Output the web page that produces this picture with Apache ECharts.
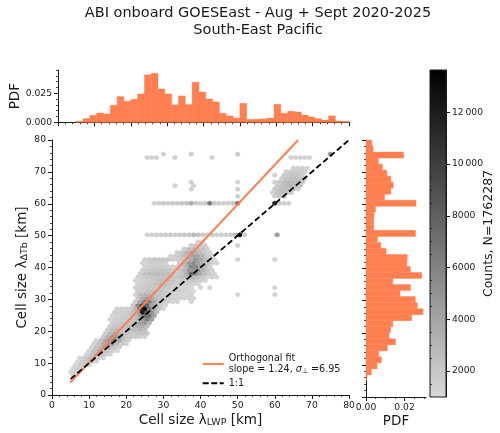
<!DOCTYPE html>
<html>
<head>
<meta charset="utf-8">
<style>html,body{margin:0;padding:0;background:#fff}#c{width:500px;height:433px}</style>
<script src="https://cdn.jsdelivr.net/npm/echarts@6/dist/echarts.min.js"></script>
</head>
<body>
<div id="c"></div>
<script>
// Hexagon lattice: x = lambda_LWP, y = lambda_dTb, 60 x 34 bins over 5-80 km
const binOrigin = 5;
const colStep = 0.625;
const rowStep = 1.103;

// Occupied hexagon runs: row index, first column index (columns advance by 2), counts
const hexRow = [1,2,3,4,5,6,7,8,9,10,11,12,13,14,15,16,17,18,19,20,21,22,22,23,24,24,24,24,25,26,26,26,26,27,28,29,30,31,32,33,33,34,34,34,35,36,37,38,38,39,41,41,50,50,52,52,53,54,54,54,55,55,55,56,56,56,56,57,58,58,59,60,63,63,63,63,64,64,64,64];
const hexFirstCol = [1,0,1,2,3,4,7,8,9,10,11,14,15,16,17,18,17,18,19,20,27,28,52,29,28,52,72,88,29,28,56,60,88,29,28,29,30,31,32,31,47,32,72,88,43,46,49,52,72,55,33,89,36,88,72,88,87,52,72,88,45,53,89,52,72,88,90,91,88,92,93,96,33,45,61,95,40,52,72,112];
const hexCounts = [
  [1200],
  [1100,1500],
  [1200,1700,1300],
  [1200,1800,1800,1200],
  [1100,1700,2200,2000,1300],
  [1200,1800,2400,2300,1700,1200],
  [1500,2300,2900,2500,1700,1200],
  [1400,2400,3100,2800,2000,1500,1100],
  [1300,2300,3200,3400,2800,2100,1500],
  [1300,2300,3500,4600,4000,2600,1800,1300],
  [1200,2300,3800,5600,6000,3900,2200,1500],
  [1900,3400,5200,4800,3200,2200,1800,1700,1600,1300],
  [1700,2800,3600,3000,2300,2100,2000,2200,2400,1900],
  [1600,2400,2800,2400,2300,2300,2600,2900,2500],
  [1600,2100,2300,2400,2500,2900,3500,3400,2400],
  [1500,1800,2000,2200,2500,3200,4400,4800,3000],
  [1200,1500,1700,1900,2100,2400,3000,4800,6200,4300],
  [1300,1500,1700,1900,2200,2700,4200,7200,7000,4200],
  [1500,1600,1700,1900,2400,4000,12000,8500,5000,2900],
  [1400,1500,1500,1800,3200,11000,13600,6500,3500,2300,1300],
  [1900,5800,10500,7800,4200,2500,1800,1300],
  [1700,4000,6500,6000,4000,2500,1800,1500,1300,1200],
  [1300],
  [1900,3600,4400,3800,2700,2200,1700,1600,1500,1400,1300,1300,1200],
  [1500,2600,3000,3100,2600,2200,2000,1700,1500,1400,1300,1200],
  [1400],
  [1300],
  [1300],
  [1700,2000,2300,2400,2300,2200,1900,1700,1500,1400,1300,1200,1100],
  [1500,1700,1900,2000,2300,2400,2100,1800,1600,1500,1300,1300,1200],
  [1200],
  [1100],
  [1300],
  [1400,1600,1800,2000,2400,2700,2500,2000,1700,1700,1600,1500,1300,1200],
  [1300,1500,1700,1900,2100,2300,2500,2500,2100,1800,1900,2000,2000,1800,1500,1200],
  [1400,1600,1800,2000,2100,2200,2300,2100,2000,2200,2700,3000,3000,2400,1800,1300,1200,1100],
  [1700,2300,2600,2700,2700,2600,2400,2100,1900,2300,3400,7800,5500,3600,2400,1700,1300],
  [1500,1800,2000,2100,2200,2200,2000,1800,2100,2800,4800,5200,5000,3300,2200,1400],
  [1400,1500,1600,1700,1700,1600,1500,1400,2000,3200,5800,5800,4200,2800,1700],
  [1300,1400,1500,1600,1500,1300],
  [1700,2600,4800,5600,4200,3000,2300,1500,1200],
  [1600,1900,2100,2100,2000,1900,1700,1600,2000,2500,3500,4800,4000,2800,1800,1300],
  [1300],
  [1400],
  [1300,1600,2000,2600,3400,4200,3900,3000,2000,1400],
  [1500,2100,2900,3500,3400,2600,1900,1300],
  [1700,2400,2800,2600,2100,1500],
  [1500,2000,1900,1400],
  [1300],
  [1300,1200],
  [1300,1400,1500,1700,1800,1800,1700,1900,1900,2000,2800,2500,1800,1700,1700,1600,1600,1500,1700,2600,13000,1500],
  [4500],
  [1300,1500,1700,1700,1800,1900,2100,2300,3800,1800,1700,1700,6500,1900,1700,1600,1600,2000,7000],
  [11500,2000,1600,1400],
  [1400],
  [1500,2200,2100],
  [1400,2200,2500,2300,1800],
  [1300],
  [1400],
  [1800,2400,2600,2500,2100,1500],
  [1300],
  [1400],
  [1700,2300,2700,3000,2700,2200],
  [1400],
  [1300],
  [1500],
  [2000,2500,3000,2900,2500,1800],
  [1700,2200,2500,2600,2200,1700],
  [1400],
  [1800,2000,2200,2000,1600],
  [1500,1800,1900,1800,1500],
  [1400,1500,1500,1300],
  [1400,1300,1400],
  [1500],
  [1300],
  [1300,1300,1400,1300,1300],
  [1500],
  [1700],
  [1700],
  [5000]
];

// Marginal histograms: 40 bins of 1.875 km starting at 5 km
const histStart = 5;
const histWidth = 1.875;
const pdfLwp = [.001,.0032,.006,.008,.0072,.0147,.0221,.0181,.0198,.0244,.0408,.0422,.0287,.0244,.015,.0227,.0152,.0345,.0261,.0201,.0175,.0078,.0055,.0037,.0164,.0026,.0026,.0029,.0037,.0155,.0078,.0095,.0089,.0063,.0046,.0032,.002,.0055,.0011,.0009];
const pdfTb = [.0003,.0028,.0057,.008,.0066,.0111,.0153,.012,.0127,.0139,.0237,.0296,.0266,.0256,.0176,.0231,.0139,.0289,.023,.0212,.0214,.0104,.0077,.0059,.0257,.004,.004,.0042,.0049,.0259,.0096,.0129,.0141,.0129,.0108,.0085,.0064,.0195,.0037,.003];

// Fit and reference lines
const fitLine = [[4.9,3.9],[66.3,80]];
const unityLine = [[5,5],[80,80]];

// Axis ticks
const topMajor = [0,0.025];
const topMinor = [0.005,0.01,0.015,0.02,0.03,0.035,0.04,0.045];
const sideMajor = [0,0.02];
const sideMinor = [0.005,0.01,0.015,0.025,0.03];
const barMajor = [2000,4000,6000,8000,10000,12000];
const barMinor = [1500,2500,3000,3500,4500,5000,5500,6500,7000,7500,8500,9000,9500,10500,11000,11500,12500,13000,13500];
const barLabels = {2000:'2000',4000:'4000',6000:'6000',8000:'8000',10000:'10\u2009000',12000:'12\u2009000'};

const countMin = 1000, countMax = 13630;
const rampLow = '#d8d8d8', rampHigh = '#000000';
const FONT = '"DejaVu Sans"';
const INK = '#1a1a1a';
const CORAL = '#ff7f50';

const hexData = [];
hexRow.forEach((k, i) => {
  hexCounts[i].forEach((n, j) => {
    hexData.push([binOrigin + colStep * (hexFirstCol[i] + 2 * j), binOrigin + rowStep * k, n]);
  });
});

function renderHex(params, api) {
  const x = api.value(0), y = api.value(1);
  const sx = colStep, s1 = rowStep * 2 / 6, s2 = rowStep * 2 / 3;
  const pts = [[x+sx,y-s1],[x+sx,y+s1],[x,y+s2],[x-sx,y+s1],[x-sx,y-s1],[x,y-s2]].map(p => api.coord(p));
  const c = api.visual('color');
  return {type:'polygon', shape:{points:pts}, style:{fill:c, stroke:c, lineWidth:0.4}};
}
function renderBarX(params, api) {
  const a = api.coord([api.value(0), 0]);
  const b = api.coord([api.value(0) + histWidth, api.value(1)]);
  return {type:'rect', shape:{x:a[0], y:b[1], width:b[0]-a[0], height:a[1]-b[1]}, style:{fill:CORAL, stroke:CORAL, lineWidth:0.4}};
}
function renderBarY(params, api) {
  const a = api.coord([0, api.value(1) + histWidth]);
  const b = api.coord([api.value(0), api.value(1)]);
  return {type:'rect', shape:{x:a[0], y:a[1], width:b[0]-a[0], height:b[1]-a[1]}, style:{fill:CORAL, stroke:CORAL, lineWidth:0.4}};
}
// Colour bar body spanning the whole count range
function renderRamp(params, api) {
  const a = api.coord([0, countMax]);
  const b = api.coord([1, countMin]);
  return {type:'rect', shape:{x:a[0], y:a[1], width:b[0]-a[0], height:b[1]-a[1]},
    style:{fill:new echarts.graphic.LinearGradient(0,0,0,1,[{offset:0,color:rampHigh},{offset:1,color:rampLow}])}};
}

const line = {show:true, onZero:false, lineStyle:{color:INK, width:1}};
const majorTick = {show:true, length:4, lineStyle:{color:INK, width:1}};
const minorTickAxis = {show:true, length:2, lineStyle:{color:INK, width:0.8}};
const labelBase = {color:INK, fontFamily:FONT, fontSize:9.2, margin:6};
const xLabel = Object.assign({alignMinLabel:'center', alignMaxLabel:'center'}, labelBase);
const yLabel = Object.assign({verticalAlignMinLabel:'middle', verticalAlignMaxLabel:'middle'}, labelBase);
const off = {show:false};
const sub = {fontFamily:FONT, fontSize:9.5, color:INK, padding:[5,0,0,0]};
const minor10 = {show:true, splitNumber:5, length:2, lineStyle:{color:INK, width:0.8}};

const option = {
  animation:false,
  backgroundColor:'#fff',
  title:{
    text:'ABI onboard GOESEast - Aug + Sept 2020-2025\nSouth-East Pacific',
    left:253, top:0, textAlign:'center',
    textStyle:{fontFamily:FONT, fontWeight:'normal', fontSize:14.5, lineHeight:16.5, color:INK}
  },
  grid:[
    {left:52, top:140, width:297, height:257},
    {left:52, top:70, width:297, height:52.3},
    {left:366, top:140, width:60, height:257},
    {left:430, top:70, width:16, height:327, show:true, z:10, borderColor:INK, borderWidth:1, backgroundColor:'transparent'}
  ],
  xAxis:[
    {type:'value', gridIndex:0, min:0, max:80, interval:10, position:'bottom',
     name:'{t|Cell size λ}{s|LWP}{t| [km]}', nameLocation:'middle', nameGap:18, nameMoveOverlap:false,
     nameTextStyle:{rich:{t:{fontFamily:FONT, fontSize:13.5, color:INK}, s:sub}},
     axisLine:line, axisTick:majorTick, axisLabel:xLabel, splitLine:off,
     minorTick:minor10, minorSplitLine:off},
    {type:'value', gridIndex:1, min:0, max:80, interval:10, position:'bottom',
     axisLine:line, axisTick:majorTick, axisLabel:off, splitLine:off, minorTick:minor10},
    {type:'value', gridIndex:2, min:0, max:0.0311, position:'bottom',
     name:'PDF', nameLocation:'middle', nameGap:17, nameMoveOverlap:false,
     nameTextStyle:{fontFamily:FONT, fontSize:13.5, color:INK},
     axisLine:line, axisTick:Object.assign({customValues:sideMajor}, majorTick),
     axisLabel:Object.assign({customValues:sideMajor, formatter:v => v.toFixed(2), showMinLabel:true, showMaxLabel:true}, xLabel), splitLine:off},
    {type:'value', gridIndex:2, min:0, max:0.0311, position:'bottom',
     axisLine:off, axisTick:Object.assign({customValues:sideMinor}, minorTickAxis), axisLabel:off, splitLine:off},
    {type:'value', gridIndex:3, min:0, max:1, show:false}
  ],
  yAxis:[
    {type:'value', gridIndex:0, min:0, max:80, interval:10, position:'left',
     name:'{t|Cell size λ}{s|ΔTb}{t| [km]}', nameLocation:'middle', nameGap:22, nameRotate:90, nameMoveOverlap:false,
     nameTextStyle:{rich:{t:{fontFamily:FONT, fontSize:13.5, color:INK}, s:sub}},
     axisLine:line, axisTick:majorTick, axisLabel:yLabel, splitLine:off, minorTick:minor10},
    {type:'value', gridIndex:1, min:0, max:0.045, position:'left',
     name:'PDF', nameLocation:'middle', nameGap:36, nameRotate:90, nameMoveOverlap:false,
     nameTextStyle:{fontFamily:FONT, fontSize:13.5, color:INK},
     axisLine:line, axisTick:Object.assign({customValues:topMajor}, majorTick),
     axisLabel:Object.assign({customValues:topMajor, formatter:v => v.toFixed(3)}, yLabel), splitLine:off},
    {type:'value', gridIndex:1, min:0, max:0.045, position:'left',
     axisLine:off, axisTick:Object.assign({customValues:topMinor}, minorTickAxis), axisLabel:off, splitLine:off},
    {type:'value', gridIndex:2, min:0, max:80, interval:10, position:'left',
     axisLine:line, axisTick:majorTick, axisLabel:off, splitLine:off, minorTick:minor10},
    {type:'value', gridIndex:3, min:countMin, max:countMax, position:'right', z:11,
     name:'Counts, N=1762287', nameLocation:'middle', nameGap:36, nameRotate:90, nameMoveOverlap:false,
     nameTextStyle:{fontFamily:FONT, fontSize:12.5, color:INK},
     axisLine:line, axisTick:Object.assign({customValues:barMajor}, majorTick),
     axisLabel:Object.assign({customValues:barMajor, formatter:v => barLabels[v] || ''}, yLabel), splitLine:off},
    {type:'value', gridIndex:3, min:countMin, max:countMax, position:'right', z:11,
     axisLine:off, axisTick:Object.assign({customValues:barMinor}, minorTickAxis), axisLabel:off, splitLine:off}
  ],
  visualMap:{
    type:'continuous', show:false, min:countMin, max:countMax, dimension:2, seriesIndex:0,
    inRange:{color:[rampLow, rampHigh]}
  },
  legend:{
    left:202.7, top:353.3, orient:'vertical', padding:0, itemGap:3.4, itemWidth:21, itemHeight:2,
    data:[
      {name:'Orthogonal fit', icon:'path://M0,0H21V2H0Z'},
      {name:'1:1', icon:'path://M0,0H6V2H0Z M8.5,0H14.5V2H8.5Z M17,0H21V2H17Z'}
    ],
    formatter:n => n === '1:1' ? '{a|1:1}' : '{a|Orthogonal fit}\n{a|slope = 1.24, }{i|σ}{b|⊥}{a| =6.95}',
    textStyle:{rich:{
      a:{fontFamily:FONT, fontSize:9.6, color:INK, lineHeight:11.5},
      i:{fontFamily:FONT, fontStyle:'italic', fontSize:9.6, color:INK, lineHeight:11.5},
      b:{fontFamily:FONT, fontSize:7, color:INK, lineHeight:11.5, padding:[3,0,0,0]}
    }}
  },
  series:[
    {type:'custom', name:'hex', coordinateSystem:'cartesian2d', xAxisIndex:0, yAxisIndex:0,
     renderItem:renderHex, data:hexData, encode:{x:0, y:1}, clip:false, z:2},
    {type:'line', name:'Orthogonal fit', xAxisIndex:0, yAxisIndex:0, data:fitLine, symbol:'none',
     lineStyle:{color:CORAL, width:2}, itemStyle:{color:CORAL}, z:3},
    {type:'line', name:'1:1', xAxisIndex:0, yAxisIndex:0, data:unityLine, symbol:'none',
     lineStyle:{color:'#000', width:1.8, type:[6,3]}, itemStyle:{color:'#000'}, z:4},
    {type:'custom', coordinateSystem:'cartesian2d', xAxisIndex:1, yAxisIndex:1,
     renderItem:renderBarX, data:pdfLwp.map((v,i) => [histStart + histWidth*i, v]), encode:{x:0, y:1}},
    {type:'custom', coordinateSystem:'cartesian2d', xAxisIndex:2, yAxisIndex:3,
     renderItem:renderBarY, data:pdfTb.map((v,i) => [v, histStart + histWidth*i]), encode:{x:0, y:1}},
    {type:'custom', coordinateSystem:'cartesian2d', xAxisIndex:4, yAxisIndex:4,
     renderItem:renderRamp, data:[[0, countMin]], encode:{x:0, y:1}, clip:false}
  ]
};
echarts.init(document.getElementById('c'), null, {renderer:'canvas'}).setOption(option);
</script>
</body>
</html>
